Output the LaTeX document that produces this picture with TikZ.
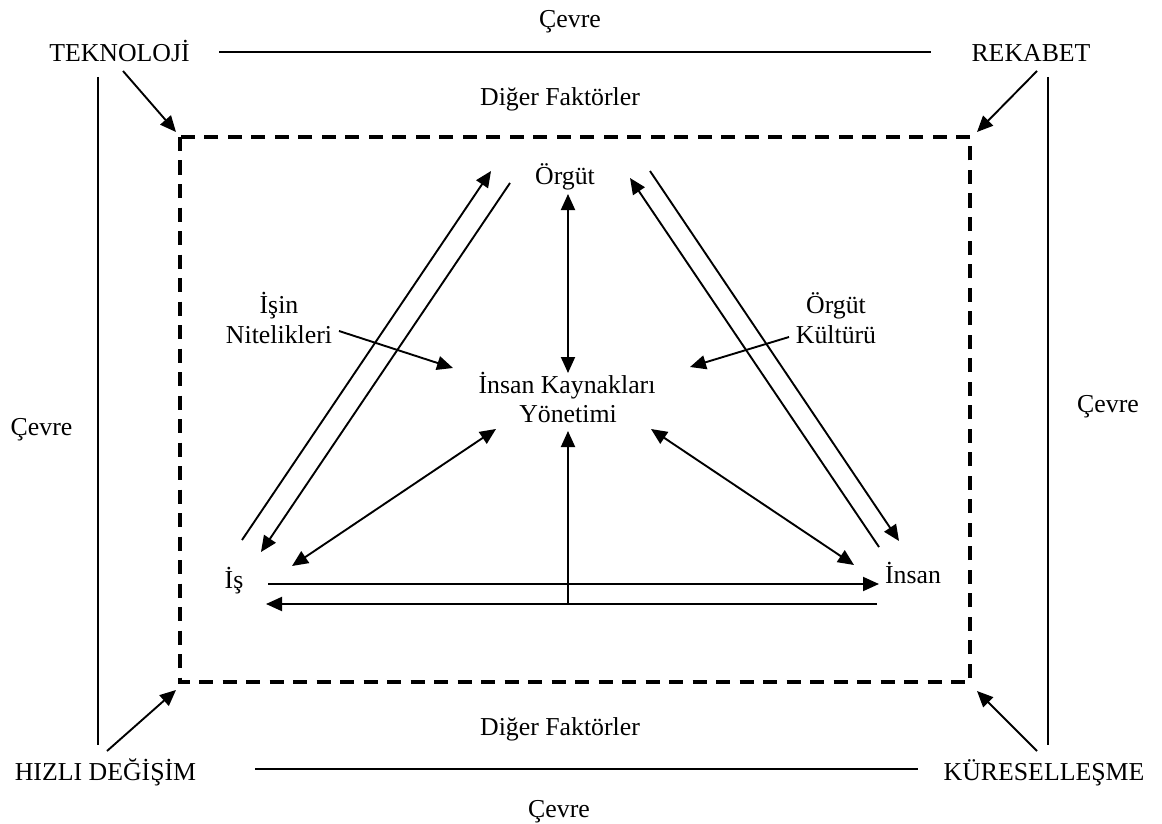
\documentclass[tikz,border=0pt]{standalone}
\usepackage{fontspec}
\setmainfont{Liberation Serif}
\usetikzlibrary{arrows.meta}
\begin{document}
\begin{tikzpicture}[x=1pt,y=-1pt,
  lbl/.style={anchor=base, inner sep=0pt, font=\fontsize{25.8}{30}\selectfont},
  conn/.style={line width=1.9pt},
  arr/.style={conn, -{Triangle[length=16pt,width=14pt]}},
  darr/.style={conn, {Triangle[length=16pt,width=14pt]}-{Triangle[length=16pt,width=14pt]}},
  frame/.style={line width=3.2pt, dash pattern=on 14pt off 9.5pt}]
\useasboundingbox (0,0) rectangle (1162,824);

% outer environment labels
\node[lbl] (cevreT) at (570,28) {Çevre};
\node[lbl] (cevreB) at (559,817) {Çevre};
\node[lbl] (cevreL) at (41.5,435) {Çevre};
\node[lbl] (cevreR) at (1108,412) {Çevre};
\node[lbl] (tek) at (119.5,62) {TEKNOLOJİ};
\node[lbl] (rek) at (1031,62) {REKABET};
\node[lbl] (hiz) at (105.5,780) {HIZLI DEĞİŞİM};
\node[lbl] (kur) at (1044,780) {KÜRESELLEŞME};
\node[lbl] (digerT) at (560,106) {Diğer Faktörler};
\node[lbl] (digerB) at (560,735) {Diğer Faktörler};

% environment boundary lines
\coordinate (topL) at (219,52);   \coordinate (topR) at (931,52);
\coordinate (botL) at (255,769);  \coordinate (botR) at (918,769);
\coordinate (lftT) at (98,77);    \coordinate (lftB) at (98,745);
\coordinate (rgtT) at (1048,77);  \coordinate (rgtB) at (1048,745);
\draw[conn] (topL) -- (topR);
\draw[conn] (botL) -- (botR);
\draw[conn] (lftT) -- (lftB);
\draw[conn] (rgtT) -- (rgtB);

% organisation boundary
\coordinate (boxNW) at (180,137);
\coordinate (boxSE) at (970,682);
\draw[frame] (boxNW) rectangle (boxSE);

% forces acting on the boundary
\coordinate (tekS) at (123,71);   \coordinate (tekE) at (176,132);
\coordinate (rekS) at (1037,71);  \coordinate (rekE) at (977,132);
\coordinate (hizS) at (107,751);  \coordinate (hizE) at (176,690);
\coordinate (kurS) at (1037,751); \coordinate (kurE) at (977,691);
\draw[arr] (tekS) -- (tekE);
\draw[arr] (rekS) -- (rekE);
\draw[arr] (hizS) -- (hizE);
\draw[arr] (kurS) -- (kurE);

% inner labels
\node[lbl] (org) at (565,185) {Örgüt};
\node[lbl] (iky1) at (567,393) {İnsan Kaynakları};
\node[lbl] (iky2) at (568,422) {Yönetimi};
\node[lbl] (is) at (234,588) {İş};
\node[lbl] (insan) at (913,583) {İnsan};
\node[lbl] (isin1) at (279,313) {İşin};
\node[lbl] (isin2) at (279,343) {Nitelikleri};
\node[lbl] (kul1) at (836,313) {Örgüt};
\node[lbl] (kul2) at (836,343) {Kültürü};

% Örgüt <-> İKY
\coordinate (orgD) at (568,194);  \coordinate (ikyU) at (568,373);
\draw[darr] (orgD) -- (ikyU);

% İş <-> İnsan and the link up to İKY
\coordinate (isR1) at (268,584);  \coordinate (insL1) at (879,584);
\coordinate (insL2) at (877,604); \coordinate (isR2) at (266,604);
\coordinate (midB) at (568,604);  \coordinate (ikyD) at (568,431);
\draw[arr] (isR1) -- (insL1);
\draw[arr] (insL2) -- (isR2);
\draw[arr] (midB) -- (ikyD);

% İKY <-> İş, İKY <-> İnsan
\coordinate (isNE) at (292,566);  \coordinate (ikySW) at (496,429);
\coordinate (insNW) at (854,565); \coordinate (ikySE) at (651,429);
\draw[darr] (isNE) -- (ikySW);
\draw[darr] (insNW) -- (ikySE);

% influencing factors
\coordinate (nitE) at (339,331);  \coordinate (ikyW) at (453,368);
\coordinate (kulW) at (789,337);  \coordinate (ikyE) at (690,367);
\draw[arr] (nitE) -- (ikyW);
\draw[arr] (kulW) -- (ikyE);

% İş <-> Örgüt
\coordinate (isA) at (242,540);   \coordinate (orgA) at (491,171);
\coordinate (orgB) at (510,183);  \coordinate (isB) at (261,552);
\draw[arr] (isA) -- (orgA);
\draw[arr] (orgB) -- (isB);

% İnsan <-> Örgüt
\coordinate (insC) at (879,547);  \coordinate (orgC) at (630,178);
\coordinate (orgD2) at (650,171); \coordinate (insD) at (899,541);
\draw[arr] (insC) -- (orgC);
\draw[arr] (orgD2) -- (insD);
\end{tikzpicture}
\end{document}
